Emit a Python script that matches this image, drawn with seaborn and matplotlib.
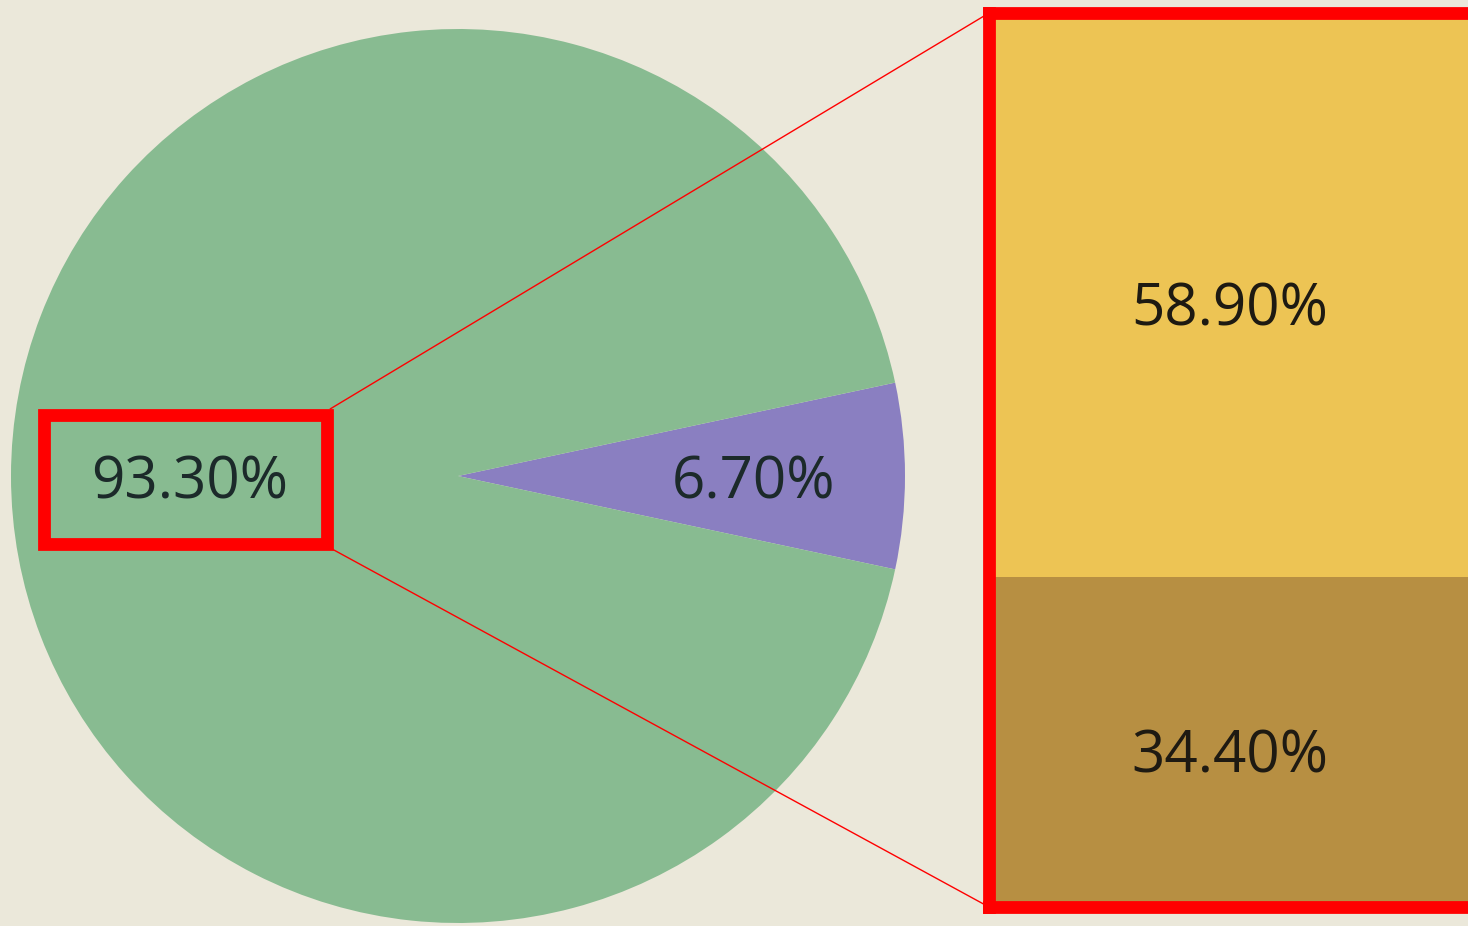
import numpy as np
import matplotlib
matplotlib.use('Agg')
import matplotlib.pyplot as plt
from matplotlib.patches import Rectangle, ConnectionPatch
import seaborn as sns

# pie: share of the two groups
pie_labels = ['B', 'A']
pie_values = [6.70, 93.30]
pie_colors = ['#8A7FC1', '#88BB91']

# breakdown of the large group (stacked bar)
bar_labels = ['lower', 'upper']
bar_values = [34.40, 58.90]
bar_colors = ['#B78F42', '#EDC454']

bg = '#EBE8DA'
red = '#FF0000'

sns.set_theme(style='white')
plt.rcParams['font.family'] = ['Open Sans', 'DejaVu Sans']

W, H = 1468, 926
fig = plt.figure(figsize=(W / 100, H / 100), dpi=100, facecolor=bg)

# pie axes (circle centre ~ (458, 476) px, radius ~447 px)
ax_pie = fig.add_axes([11 / W, 3 / H, 894 / W, 894 / H])
ax_pie.set_facecolor('none')
start = -pie_values[0] * 3.6 / 2
wedges, texts, autotexts = ax_pie.pie(
    pie_values, colors=pie_colors, startangle=start, radius=1,
    autopct='%.2f%%', pctdistance=0.62,
    textprops=dict(fontsize=42, color='#1C2A2A'),
    wedgeprops=dict(linewidth=0))
autotexts[0].set_x(0.66)
autotexts[1].set_x(-0.60)
for t in autotexts:
    t.set_va('center_baseline')
ax_pie.set_xlim(-1, 1)
ax_pie.set_ylim(-1, 1)
ax_pie.axis('off')

# red box around the 93.30% label
box = Rectangle((-0.926, -0.153), 0.632, 0.290, fill=False, ec=red, lw=9.2,
                clip_on=False, zorder=5)
ax_pie.add_patch(box)

# stacked bar axes
ax_bar = fig.add_axes([989 / W, (H - 907) / H, (1471 - 989) / W, (907 - 13) / H])
total = sum(bar_values)
sns.barplot(x=[0], y=[total], color=bar_colors[1], width=1, ax=ax_bar,
            saturation=1, linewidth=0)
sns.barplot(x=[0], y=[bar_values[0]], color=bar_colors[0], width=1, ax=ax_bar,
            saturation=1, linewidth=0)
ax_bar.set_xlim(-0.5, 0.5)
ax_bar.set_ylim(0, total)
ax_bar.set_xticks([])
ax_bar.set_yticks([])
ax_bar.set_xlabel('')
ax_bar.set_ylabel('')
for s in ax_bar.spines.values():
    s.set_visible(True)
    s.set_color(red)
    s.set_linewidth(9.2)

bottom = 0
for v in bar_values:
    ax_bar.text(0, bottom + v / 2 - 0.8, f'{v:.2f}%', ha='center', va='center_baseline',
                fontsize=42, color='#1E1A12')
    bottom += v

# connecting lines
for ya, yb in [(0.150, 1.0), (-0.161, 0.0)]:
    con = ConnectionPatch(xyA=(-0.286, ya), coordsA=ax_pie.transData,
                          xyB=(0, yb), coordsB=ax_bar.transAxes,
                          color=red, lw=1.0, zorder=4)
    fig.add_artist(con)

fig.savefig('out.png', dpi=100, facecolor=bg)
